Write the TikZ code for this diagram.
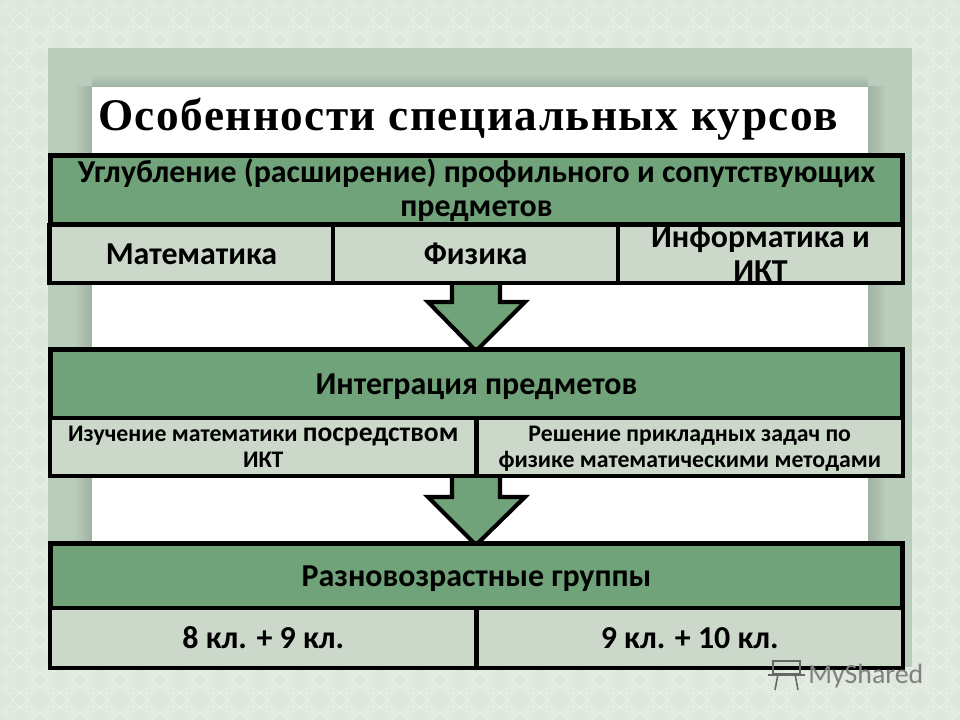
\documentclass[tikz,border=0pt]{standalone}
\usepackage{fontspec}
\setmainfont{Carlito}
\newfontfamily\titlefont[LetterSpace=3.2]{Liberation Serif}
\usetikzlibrary{arrows.meta,calc,positioning}

\definecolor{bgpale}{HTML}{DFE8DD}
\definecolor{bgline}{HTML}{EEF3EB}
\definecolor{panelgreen}{HTML}{BACCBB}
\definecolor{panelshade}{HTML}{9FB3A2}
\definecolor{headgreen}{HTML}{70A379}
\definecolor{cellgreen}{HTML}{CBD8CA}

\def\px{0.025cm}

\begin{document}
\begin{tikzpicture}[
  x=0.025cm, y=-0.025cm,
  font=\bfseries,
  head/.style={draw=black, fill=headgreen, line width=2.9pt, align=center, inner sep=0pt, font=\bfseries\fontsize{22.7}{24.2}\selectfont},
  cell/.style={draw=black, fill=cellgreen, line width=2.9pt, align=center, inner sep=0pt, font=\bfseries\fontsize{22.7}{24.2}\selectfont},
  small/.style={cell, font=\bfseries\fontsize{16.9}{18.5}\selectfont},
  down/.style={draw=black, fill=headgreen, line width=2.9pt, line join=miter}
]

\useasboundingbox (0,0) rectangle (960,720);
\fill[bgpale] (0,0) rectangle (960,720);

% scale pattern of the background
\foreach \i in {0,...,24} {
  \foreach \j in {0,...,18} {
    \draw[bgline, line width=0.35pt] (40*\i,40*\j) circle[radius=34];
    \draw[bgline, line width=0.35pt] (40*\i+20,40*\j+20) circle[radius=34];
  }
}

% panel and white sheet with soft shadow
\fill[panelgreen] (48,48) rectangle (912,667);
\shade[left color=panelgreen, right color=panelshade] (74,87) rectangle (92,667);
\shade[left color=panelshade, right color=panelgreen] (868,87) rectangle (886,667);
\shade[top color=panelgreen, bottom color=panelshade] (92,74) rectangle (868,87);
\fill[white] (92,87) rectangle (868,545);

\node[anchor=base west, inner sep=0pt, font=\titlefont\bfseries\fontsize{32.2}{36}\selectfont] (title) at (98,131) {Особенности специальных курсов};

% arrows go under the tables
\draw[down] (452,280) -- (452,302) -- (428,302) -- (476,351) -- (525,302) -- (500,302) -- (500,280) -- cycle;
\draw[down] (452,474) -- (452,497) -- (428,497) -- (476,545) -- (525,497) -- (500,497) -- (500,474) -- cycle;

% first table
\node[head, minimum width=852*\px, minimum height=69*\px] (uglub) at (476.5,190) {Углубление (расширение) профильного и сопутствующих\\предметов};
\node[cell, minimum width=284*\px, minimum height=58*\px] (matem) at (191.5,254) {Математика};
\node[cell, minimum width=285*\px, minimum height=58*\px] (fizika) at (475.5,254) {Физика};
\node[cell, minimum width=285*\px, minimum height=58*\px] (inform) at (760.5,254) {Информатика и\\ИКТ};

% second table
\node[head, text height=19pt, minimum width=852*\px, minimum height=69*\px] (integr) at (476.5,384) {Интеграция предметов};
\node[small, minimum width=426*\px, minimum height=58*\px] (izuch) at (263.25,447) {Изучение математики {\fontsize{19.6}{18.5}\selectfont посредством}\\ИКТ};
\node[small, minimum width=426*\px, minimum height=58*\px] (reshen) at (689.75,447) {\rule{0pt}{14pt}Решение прикладных задач по\\физике математическими методами};

% third table
\node[head, text height=19pt, minimum width=852*\px, minimum height=65*\px] (raznov) at (476.5,576) {Разновозрастные группы};
\node[cell, minimum width=426*\px, minimum height=60*\px] (klassA) at (263.25,638) {8 кл. + 9 кл.};
\node[cell, minimum width=426*\px, minimum height=60*\px] (klassB) at (689.75,638) {9 кл. + 10 кл.};

% watermark
\draw[black!60, line width=1.1pt] (773,661) rectangle (800,674);
\draw[black!60, line width=1.1pt] (778,674) -- (775,690) (795,674) -- (798,690) (768,675) -- (805,675);
\node[anchor=base west, inner sep=0pt, text=black!50, font=\fontsize{19.8}{20}\selectfont] (mark) at (808,683) {MyShared};

\end{tikzpicture}
\end{document}
